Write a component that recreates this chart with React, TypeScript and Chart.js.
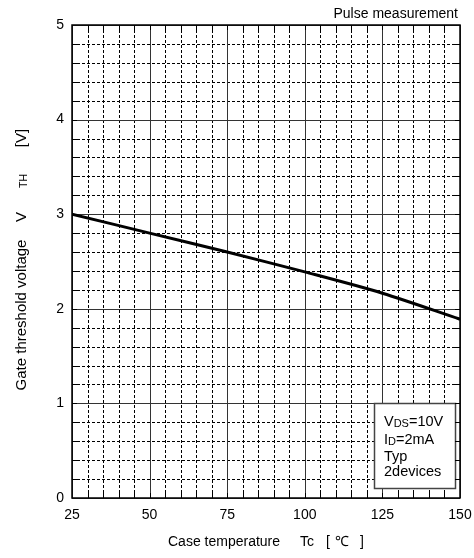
import React, { useEffect, useRef } from "react";
import { Chart, registerables } from "chart.js";

Chart.register(...registerables);

const temperatures = [25, 50, 75, 100, 125, 150];
const thresholdVoltage = [3.0, 2.8, 2.6, 2.39, 2.165, 1.89];

const xTickValues = [25, 50, 75, 100, 125, 150];
const yTickValues = [0, 1, 2, 3, 4, 5];
const xMinorStep = 5;
const yMinorStep = 0.2;

const noteText = "Pulse measurement";
const xTitleMain = "Case temperature";
const xTitleSymbol = "Tc";
const xTitleUnit = ["[", "\u2103", "]"];
const yTitleMain = "Gate threshold voltage";
const yTitleSymbol = "V";
const yTitleSub = "TH";
const yTitleUnit = "[V]";
const conditionLines: Array<[string, string, string]> = [
  ["V", "DS", "=10V"],
  ["I", "D", "=2mA"],
  ["Typ", "", ""],
  ["2devices", "", ""],
];

const FONT = "'Liberation Sans', Arial, sans-serif";

const gridPlugin = {
  id: "customGrid",
  beforeDatasetsDraw(chart: any) {
    const { ctx, chartArea, scales } = chart;
    const { left, right, top, bottom } = chartArea;
    const x = scales.x;
    const y = scales.y;
    ctx.save();
    ctx.strokeStyle = "#000";
    ctx.lineWidth = 1;
    ctx.setLineDash([3, 2]);
    const xMin = xTickValues[0];
    const xMax = xTickValues[xTickValues.length - 1];
    for (let i = 0; xMin + i * xMinorStep < xMax; i++) {
      if (i % 5 === 0) continue;
      const px = Math.round(x.getPixelForValue(xMin + i * xMinorStep)) + 0.5;
      ctx.beginPath();
      ctx.moveTo(px, top);
      ctx.lineTo(px, bottom);
      ctx.stroke();
    }
    const yMin = yTickValues[0];
    const yMax = yTickValues[yTickValues.length - 1];
    for (let i = 0; yMin + i * yMinorStep < yMax - 1e-9; i++) {
      if (i % 5 === 0) continue;
      const py = Math.round(y.getPixelForValue(yMin + i * yMinorStep)) + 0.5;
      ctx.beginPath();
      ctx.moveTo(left, py);
      ctx.lineTo(right, py);
      ctx.stroke();
    }
    ctx.setLineDash([]);
    ctx.strokeStyle = "#333";
    ctx.lineWidth = 1;
    for (const v of xTickValues) {
      const px = Math.round(x.getPixelForValue(v)) + 0.5;
      ctx.beginPath();
      ctx.moveTo(px, top);
      ctx.lineTo(px, bottom);
      ctx.stroke();
    }
    for (const v of yTickValues) {
      const py = Math.round(y.getPixelForValue(v)) + 0.5;
      ctx.beginPath();
      ctx.moveTo(left, py);
      ctx.lineTo(right, py);
      ctx.stroke();
    }
    ctx.restore();
  },
  afterDraw(chart: any) {
    const { ctx, chartArea, scales } = chart;
    const { left, right, top, bottom } = chartArea;
    const x = scales.x;
    const y = scales.y;
    ctx.save();

    // condition box
    const bx = 374.5;
    const by = 403.5;
    const bw = 81;
    const bh = 85;
    ctx.fillStyle = "#fff";
    ctx.fillRect(bx, by, bw, bh);
    ctx.strokeStyle = "#444";
    ctx.lineWidth = 1.5;
    ctx.strokeRect(bx, by, bw, bh);

    // inward ticks
    ctx.strokeStyle = "#000";
    ctx.lineWidth = 1;
    const tl = 5;
    const xMin = xTickValues[0];
    const xMax = xTickValues[xTickValues.length - 1];
    for (let i = 1; xMin + i * xMinorStep < xMax; i++) {
      const px = Math.round(x.getPixelForValue(xMin + i * xMinorStep)) + 0.5;
      ctx.beginPath();
      ctx.moveTo(px, bottom);
      ctx.lineTo(px, bottom - tl);
      ctx.moveTo(px, top);
      ctx.lineTo(px, top + tl);
      ctx.stroke();
    }
    const yMin = yTickValues[0];
    const yMax = yTickValues[yTickValues.length - 1];
    for (let i = 1; yMin + i * yMinorStep < yMax - 1e-9; i++) {
      const py = Math.round(y.getPixelForValue(yMin + i * yMinorStep)) + 0.5;
      ctx.beginPath();
      ctx.moveTo(right, py);
      ctx.lineTo(right - tl, py);
      ctx.moveTo(left, py);
      ctx.lineTo(left + tl, py);
      ctx.stroke();
    }

    // frame
    ctx.strokeStyle = "#000";
    ctx.lineWidth = 1.5;
    ctx.strokeRect(left, top, right - left, bottom - top);

    // condition text
    ctx.fillStyle = "#000";
    ctx.textBaseline = "middle";
    ctx.textAlign = "left";
    const lineYs = [421.5, 440, 456.5, 472];
    conditionLines.forEach((parts, i) => {
      let cx = 384;
      const cy = lineYs[i];
      ctx.font = `14.5px ${FONT}`;
      ctx.fillText(parts[0], cx, cy);
      cx += ctx.measureText(parts[0]).width;
      if (parts[1]) {
        ctx.font = `11px ${FONT}`;
        ctx.fillText(parts[1], cx, cy + 2);
        cx += ctx.measureText(parts[1]).width;
      }
      if (parts[2]) {
        ctx.font = `14.5px ${FONT}`;
        ctx.fillText(parts[2], cx, cy);
      }
    });

    // note top right
    ctx.font = `14px ${FONT}`;
    ctx.textAlign = "right";
    ctx.fillText(noteText, 458, 14);

    // x title
    ctx.textAlign = "left";
    ctx.font = `14px ${FONT}`;
    ctx.fillText(xTitleMain, 168, 542);
    ctx.fillText(xTitleSymbol, 300, 542);
    ctx.fillText(xTitleUnit[0], 326, 542);
    ctx.fillText(xTitleUnit[1], 335, 542);
    ctx.textAlign = "right";
    ctx.fillText(xTitleUnit[2], 364, 542);

    // y title (rotated)
    const tx = 22;
    const drawRot = (text: string, cy: number, size: number, dx: number) => {
      ctx.save();
      ctx.translate(tx + dx, cy);
      ctx.rotate(-Math.PI / 2);
      ctx.font = `${size}px ${FONT}`;
      ctx.textAlign = "center";
      ctx.textBaseline = "middle";
      ctx.fillText(text, 0, 0);
      ctx.restore();
    };
    drawRot(yTitleMain, 315, 15, 0);
    drawRot(yTitleSymbol, 217, 15, 0);
    drawRot(yTitleSub, 181, 10.5, 2);
    drawRot(yTitleUnit, 138, 15, 0);

    ctx.restore();
  },
};

export default function App() {
  const canvasRef = useRef<HTMLCanvasElement | null>(null);

  useEffect(() => {
    if (!canvasRef.current) return;
    const chart = new Chart(canvasRef.current, {
      type: "line",
      data: {
        datasets: [
          {
            data: temperatures.map((t, i) => ({ x: t, y: thresholdVoltage[i] })),
            borderColor: "#000",
            borderWidth: 3,
            pointRadius: 0,
            tension: 0.3,
            fill: false,
          },
        ],
      },
      options: {
        animation: false,
        responsive: false,
        maintainAspectRatio: false,
        layout: { padding: { top: 25, right: 14, left: 0, bottom: 0 } },
        plugins: {
          legend: { display: false },
          tooltip: { enabled: false },
          title: { display: false },
        },
        scales: {
          x: {
            type: "linear",
            min: xTickValues[0],
            max: xTickValues[xTickValues.length - 1],
            afterBuildTicks: (scale: any) => {
              scale.ticks = xTickValues.map((v) => ({ value: v }));
            },
            afterFit: (scale: any) => {
              scale.height = 60;
              scale.paddingLeft = 0;
              scale.paddingRight = 0;
            },
            grid: { display: false, drawTicks: false },
            border: { display: false },
            ticks: {
              color: "#000",
              font: { family: FONT, size: 14 },
              padding: 9,
              maxRotation: 0,
              autoSkip: false,
            },
          },
          y: {
            type: "linear",
            min: yTickValues[0],
            max: yTickValues[yTickValues.length - 1],
            afterBuildTicks: (scale: any) => {
              scale.ticks = yTickValues.map((v) => ({ value: v }));
            },
            afterFit: (scale: any) => {
              scale.width = 72;
              scale.paddingTop = 0;
              scale.paddingBottom = 0;
            },
            grid: { display: false, drawTicks: false },
            border: { display: false },
            ticks: {
              color: "#000",
              font: { family: FONT, size: 14 },
              padding: 8,
              autoSkip: false,
            },
          },
        },
      },
      plugins: [gridPlugin],
    });
    return () => chart.destroy();
  }, []);

  return (
    <div style={{ position: "absolute", left: 0, top: 0, width: 474, height: 558, background: "#fff" }}>
      <canvas ref={canvasRef} width={474} height={558} style={{ width: 474, height: 558 }} />
    </div>
  );
}
